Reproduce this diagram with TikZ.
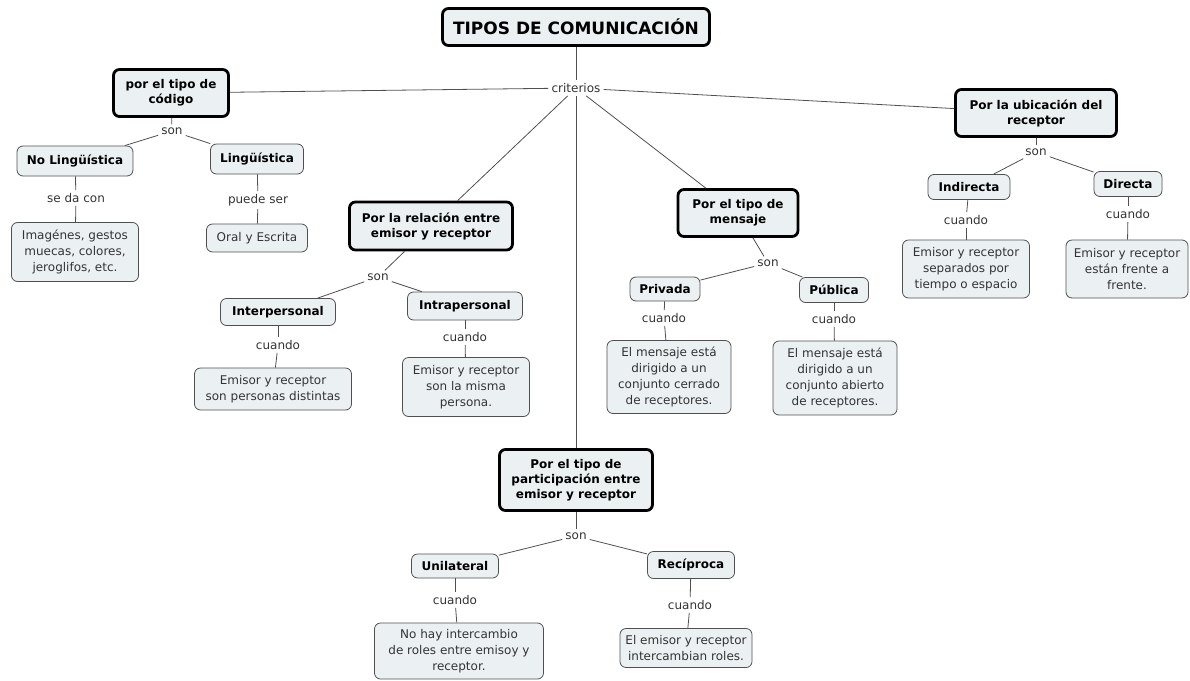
\documentclass[tikz,border=0pt]{standalone}
\usepackage{fontspec}
\setmainfont{DejaVu Sans}
\usetikzlibrary{positioning}
\definecolor{boxfill}{RGB}{235,241,243}
\definecolor{linkgray}{RGB}{80,80,80}
\definecolor{textgray}{RGB}{51,51,51}
\tikzset{
  concept/.style={draw=black, line width=2.8pt, fill=boxfill, rounded corners=6pt, align=center,
    font=\bfseries\fontsize{12}{15}\selectfont, inner sep=2pt},
  leaf/.style={draw=linkgray, line width=0.8pt, fill=boxfill, rounded corners=6pt, align=center,
    text=textgray, font=\fontsize{12}{16}\selectfont, inner sep=2pt},
  kind/.style={leaf, text=black, font=\bfseries\fontsize{12}{15}\selectfont},
  linkword/.style={text=textgray, font=\fontsize{12}{14}\selectfont, inner sep=3pt},
  link/.style={draw=linkgray, line width=0.8pt},
}

\begin{document}
\begin{tikzpicture}[x=1pt,y=-1pt]
        \useasboundingbox (0,0) rectangle (1190,680);
        % root and criteria
        \node[concept, minimum width=267, minimum height=37, font=\bfseries\fontsize{17}{20}\selectfont] (title) at (576,27) {TIPOS DE COMUNICACIÓN};
        \node[linkword] (crit) at (576,88) {criterios};
        \node[concept, minimum width=115, minimum height=47] (codigo) at (171,93) {por el tipo de\\código};
        \node[concept, minimum width=161, minimum height=47] (ubic) at (1036,113) {Por la ubicación del\\receptor};
        \node[concept, minimum width=163, minimum height=48] (relac) at (431,226) {Por la relación entre\\emisor y receptor};
        \node[concept, minimum width=120, minimum height=47] (mens) at (738,213) {Por el tipo de\\mensaje};
        \node[concept, minimum width=153, minimum height=61] (partic) at (576,480) {Por el tipo de\\participación entre\\emisor y receptor};

        % codigo
        \node[linkword] (son_a) at (172,131) {son};
        \node[kind, minimum width=116, minimum height=30] (noling) at (75,161) {No Lingüística};
        \node[kind, minimum width=93, minimum height=30] (ling) at (257,159) {Lingüística};
        \node[linkword] (sedacon) at (76,198) {se da con};
        \node[linkword] (puede) at (258,200) {puede ser};
        \node[leaf, minimum width=127, minimum height=59] (imag) at (75,252) {Imagénes, gestos\\muecas, colores,\\jeroglifos, etc.};
        \node[leaf, minimum width=101, minimum height=28] (oral) at (257,238) {Oral y Escrita};

        % relacion
        \node[linkword] (son_b) at (378,277) {son};
        \node[kind, minimum width=115, minimum height=27] (inter) at (278,312) {Interpersonal};
        \node[kind, minimum width=115, minimum height=28] (intra) at (465,306) {Intrapersonal};
        \node[linkword] (cuando_b1) at (278,345) {cuando};
        \node[linkword] (cuando_b2) at (465,337) {cuando};
        \node[leaf, minimum width=157, minimum height=42] (distintas) at (273,389) {Emisor y receptor\\son personas distintas};
        \node[leaf, minimum width=127, minimum height=59] (misma) at (466,387) {Emisor y receptor\\son la misma\\persona.};

        % mensaje
        \node[linkword] (son_c) at (768,263) {son};
        \node[kind, minimum width=70, minimum height=24] (priv) at (665,289) {Privada};
        \node[kind, minimum width=69, minimum height=25] (pub) at (834,290) {Pública};
        \node[linkword] (cuando_c1) at (664,318) {cuando};
        \node[linkword] (cuando_c2) at (834,319) {cuando};
        \node[leaf, minimum width=124, minimum height=73] (cerrado) at (669,377) {El mensaje está\\dirigido a un\\conjunto cerrado\\de receptores.};
        \node[leaf, minimum width=124, minimum height=74] (abierto) at (835,378) {El mensaje está\\dirigido a un\\conjunto abierto\\de receptores.};

        % ubicacion
        \node[linkword] (son_d) at (1036,152) {son};
        \node[kind, minimum width=82, minimum height=25] (indir) at (969,187) {Indirecta};
        \node[kind, minimum width=68, minimum height=25] (dir) at (1128,184) {Directa};
        \node[linkword] (cuando_d1) at (966,220) {cuando};
        \node[linkword] (cuando_d2) at (1128,214) {cuando};
        \node[leaf, minimum width=127, minimum height=58] (separados) at (966,269) {Emisor y receptor\\separados por\\tiempo o espacio};
        \node[leaf, minimum width=122, minimum height=58] (frente) at (1127,269) {Emisor y receptor\\están frente a\\frente.};

        % participacion
        \node[linkword] (son_e) at (576,536) {son};
        \node[kind, minimum width=87, minimum height=24] (unil) at (455,566) {Unilateral};
        \node[kind, minimum width=87, minimum height=27] (recip) at (691,565) {Recíproca};
        \node[linkword] (cuando_e1) at (455,600) {cuando};
        \node[linkword] (cuando_e2) at (690,605) {cuando};
        \node[leaf, minimum width=169, minimum height=56] (nohay) at (459,651) {No hay intercambio\\de roles entre emisoy y\\receptor.};
        \node[leaf, minimum width=132, minimum height=39] (roles) at (686,648) {El emisor y receptor\\intercambian roles.};

        \path[link]
        (title) edge (crit)
        (crit) edge (codigo)
        (crit) edge (ubic)
        (crit) edge (relac)
        (crit) edge (mens)
        (crit) edge (partic)
        (codigo) edge (son_a)
        (son_a) edge (noling)
        (son_a) edge (ling)
        (noling) edge (sedacon)
        (sedacon) edge (imag)
        (ling) edge (puede)
        (puede) edge (oral)
        (relac) edge (son_b)
        (son_b) edge (inter)
        (son_b) edge (intra)
        (inter) edge (cuando_b1)
        (cuando_b1) edge (distintas)
        (intra) edge (cuando_b2)
        (cuando_b2) edge (misma)
        (mens) edge (son_c)
        (son_c) edge (priv)
        (son_c) edge (pub)
        (priv) edge (cuando_c1)
        (cuando_c1) edge (cerrado)
        (pub) edge (cuando_c2)
        (cuando_c2) edge (abierto)
        (ubic) edge (son_d)
        (son_d) edge (indir)
        (son_d) edge (dir)
        (indir) edge (cuando_d1)
        (cuando_d1) edge (separados)
        (dir) edge (cuando_d2)
        (cuando_d2) edge (frente)
        (partic) edge (son_e)
        (son_e) edge (unil)
        (son_e) edge (recip)
        (unil) edge (cuando_e1)
        (cuando_e1) edge (nohay)
        (recip) edge (cuando_e2)
        (cuando_e2) edge (roles);
\end{tikzpicture}
\end{document}
